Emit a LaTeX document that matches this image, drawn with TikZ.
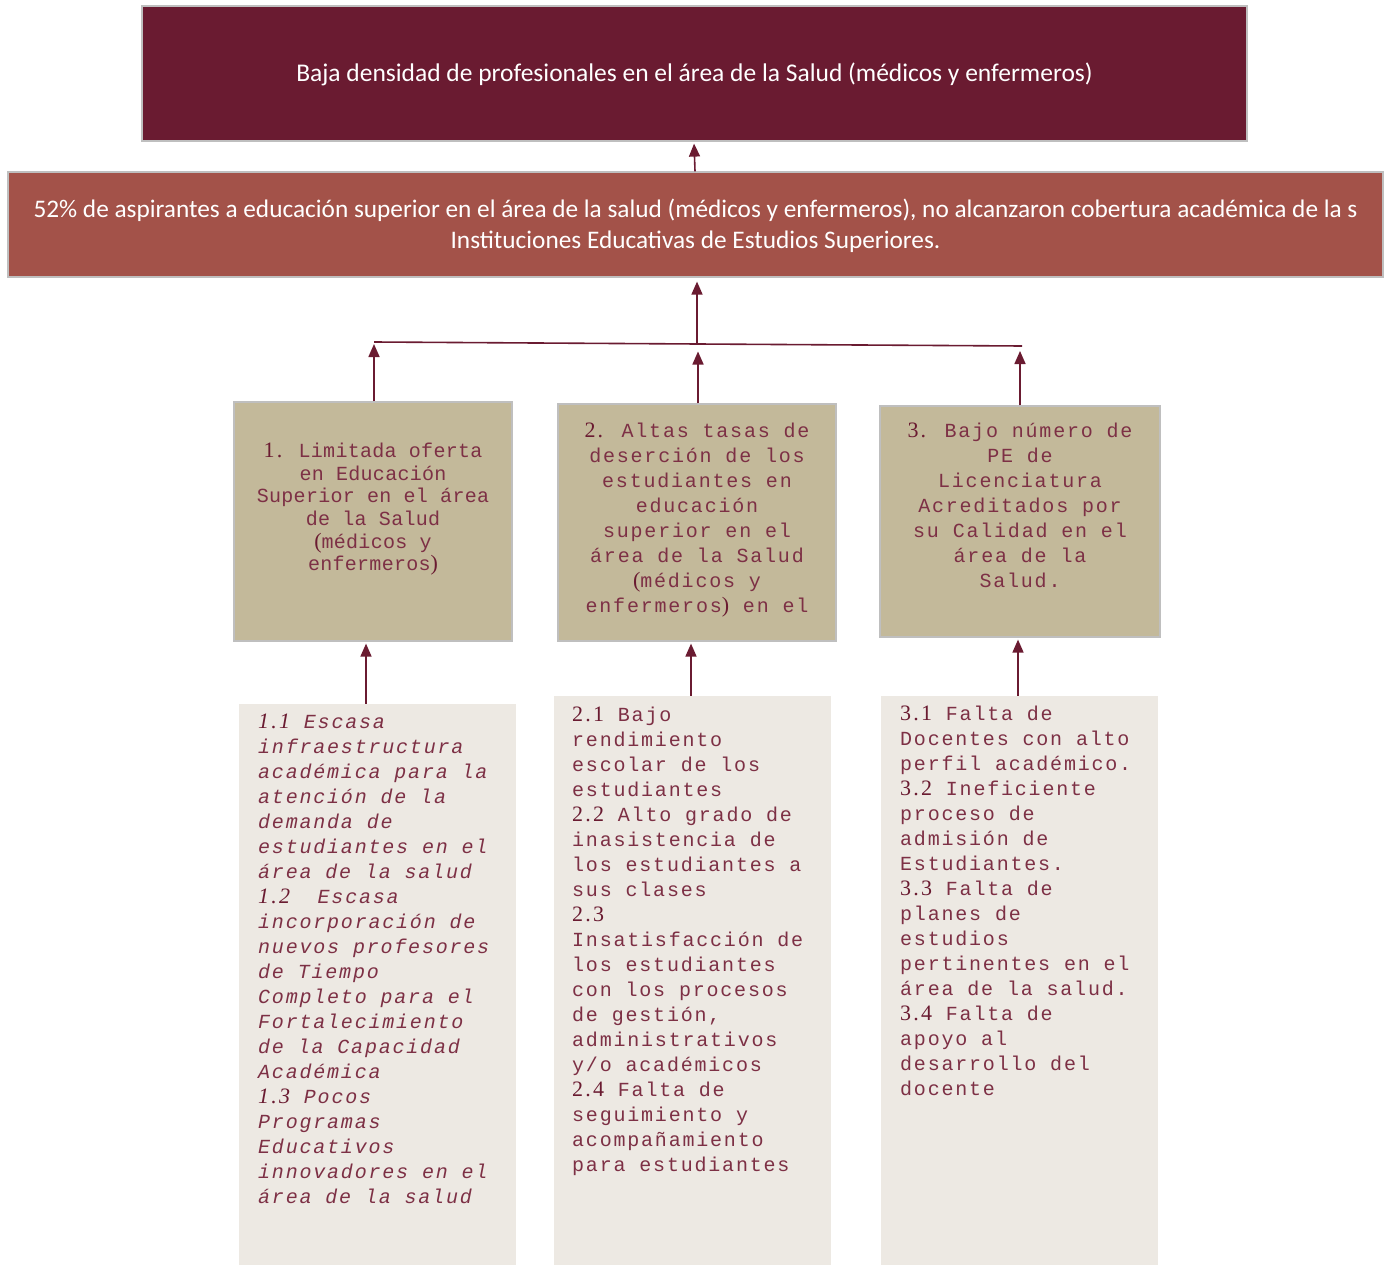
\documentclass[tikz,border=0pt]{standalone}
\usepackage{fontspec}
\setmainfont{Carlito}
\newfontfamily\monoA[LetterSpace=1.4]{Liberation Mono}
\newfontfamily\monoB[LetterSpace=9]{Liberation Mono}
\newfontfamily\nrf[LetterSpace=10]{Liberation Serif}
\usetikzlibrary{arrows.meta}
\definecolor{wine}{HTML}{6A1B31}
\definecolor{brick}{HTML}{A35249}
\definecolor{khaki}{HTML}{C3B99A}
\definecolor{paper}{HTML}{EDE9E3}
\definecolor{txt}{HTML}{7D3045}
\definecolor{edge}{HTML}{BFBFBF}
\newcommand{\nr}[1]{{\nrf\fontsize{22}{25}\selectfont\color{wine}#1}}
\tikzset{
  box/.style={rectangle, inner sep=0pt, draw=edge, line width=1.2pt},
  lowbox/.style={rectangle, inner sep=0pt, fill=paper},
  arr/.style={draw=wine, line width=1.6pt, -{Triangle[width=11pt,length=13pt]}},
  hline/.style={draw=wine, line width=1.6pt},
  midtxt/.style={inner sep=0pt, anchor=north, align=center, text=txt},
  lowtxt/.style={inner sep=0pt, anchor=north west, align=left, text=txt}
}
\begin{document}
\begin{tikzpicture}[x=1pt,y=-1pt]
\useasboundingbox (0,0) rectangle (1391,1265);
\fill[white] (0,0) rectangle (1391,1265);

% main boxes
\node[box, fill=wine, minimum width=1105pt, minimum height=135pt] (top) at (694.5,73.5) {};
\node[text=white, inner sep=0pt, font=\fontsize{25.5}{30}\selectfont] (toptxt) at (694.5,74.5)
  {Baja densidad de profesionales en el área de la Salud (médicos y enfermeros)};

\node[box, fill=brick, minimum width=1375pt, minimum height=105pt] (mid) at (695.5,224.5) {};
\node[text=white, inner sep=0pt, align=center, font=\fontsize{25.3}{31}\selectfont] (midtxt) at (695.5,226)
  {52\% de aspirantes a educación superior en el área de la salud (médicos y enfermeros), no alcanzaron cobertura académica de la s\\
   Instituciones Educativas de Estudios Superiores.};

% middle boxes
\node[box, fill=khaki, minimum width=278pt, minimum height=239pt] (m1) at (373,521.5) {};
\node[box, fill=khaki, minimum width=278pt, minimum height=237pt] (m2) at (697,522.5) {};
\node[box, fill=khaki, minimum width=280pt, minimum height=231pt] (m3) at (1020,521.5) {};

\node[midtxt, font=\monoA\fontsize{20}{22.6}\selectfont] (t1) at (373,443)
  {\nr{1.} Limitada oferta\\en Educación\\Superior en el área\\de la Salud\\\nr{(}médicos y\\enfermeros\nr{)}};
\node[midtxt, font=\monoB\fontsize{20}{25}\selectfont] (t2) at (697,423)
  {\nr{2.} Altas tasas de\\deserción de los\\estudiantes en\\educación\\superior en el\\área de la Salud\\\nr{(}médicos y\\enfermeros\nr{)} en el};
\node[midtxt, font=\monoB\fontsize{20}{25}\selectfont] (t3) at (1020,423)
  {\nr{3.} Bajo número de\\PE de\\Licenciatura\\Acreditados por\\su Calidad en el\\área de la\\Salud.};

% lower boxes
\node[lowbox, minimum width=277pt, minimum height=561pt] (b1) at (377.5,984.5) {};
\node[lowbox, minimum width=277pt, minimum height=569pt] (b2) at (692.5,980.5) {};
\node[lowbox, minimum width=277pt, minimum height=569pt] (b3) at (1019.5,980.5) {};

\node[lowtxt, font=\monoB\itshape\fontsize{20}{25}\selectfont] (u1) at (258,714)
  {\nr{\itshape 1.1} Escasa\\infraestructura\\académica para la\\atención de la\\demanda de\\estudiantes en el\\área de la salud\\\nr{\itshape 1.2}\ \ Escasa\\incorporación de\\nuevos profesores\\de Tiempo\\Completo para el\\Fortalecimiento\\de la Capacidad\\Académica\\\nr{\itshape 1.3} Pocos\\Programas\\Educativos\\innovadores en el\\área de la salud};
\node[lowtxt, font=\monoB\fontsize{20}{25}\selectfont] (u2) at (572,707)
  {\nr{2.1} Bajo\\rendimiento\\escolar de los\\estudiantes\\\nr{2.2} Alto grado de\\inasistencia de\\los estudiantes a\\sus clases\\\nr{2.3}\\Insatisfacción de\\los estudiantes\\con los procesos\\de gestión,\\administrativos\\y/o académicos\\\nr{2.4} Falta de\\seguimiento y\\acompañamiento\\para estudiantes};
\node[lowtxt, font=\monoB\fontsize{20}{25}\selectfont] (u3) at (900,706)
  {\nr{3.1} Falta de\\Docentes con alto\\perfil académico.\\\nr{3.2} Ineficiente\\proceso de\\admisión de\\Estudiantes.\\\nr{3.3} Falta de\\planes de\\estudios\\pertinentes en el\\área de la salud.\\\nr{3.4} Falta de\\apoyo al\\desarrollo del\\docente};

% connectors
\coordinate (hl) at (374,342);
\coordinate (hr) at (1022,346);
\coordinate (hm) at (697,343.5);
\draw[hline] (hl) -- (hr);
\draw[arr, shorten >=4pt] (hm) -- (hm |- mid.south);
\draw[arr, shorten >=2pt] ([xshift=-0.5pt]mid.north) -- ([xshift=-0.5pt]top.south);
\draw[arr, shorten >=2pt] ([xshift=1pt]m1.north) -- ([xshift=1pt]m1.north |- hl);
\draw[arr, shorten >=8pt] ([xshift=1pt]m2.north) -- ([xshift=1pt]m2.north |- hm);
\draw[arr, shorten >=5pt] (m3.north) -- (m3.north |- hr);
\draw[arr, shorten >=2pt] ([xshift=-11.5pt]b1.north) -- ([xshift=-7pt]m1.south);
\draw[arr, shorten >=2pt] ([xshift=-1.5pt]b2.north) -- ([xshift=-6pt]m2.south);
\draw[arr, shorten >=2pt] ([xshift=-1.5pt]b3.north) -- ([xshift=-2pt]m3.south);
\end{tikzpicture}
\end{document}
